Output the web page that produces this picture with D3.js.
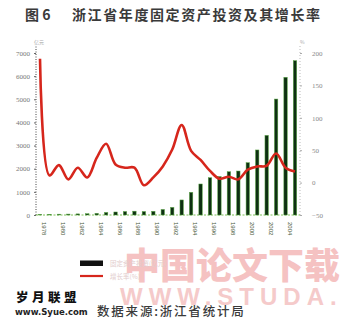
<!DOCTYPE html>
<html>
<head>
<meta charset="utf-8">
<script src="https://cdn.jsdelivr.net/npm/d3@7"></script>
<style>
  body { margin: 0; background: #fff; }
  svg { display: block; }
</style>
</head>
<body>
<div id="chart"></div>
<script>
// 浙江省年度固定资产投资(亿元)及其增长率(%)
const years = ['1978','1979','1980','1981','1982','1983','1984','1985','1986','1987',
               '1988','1989','1990','1991','1992','1993','1994','1995','1996','1997',
               '1998','1999','2000','2001','2002','2003','2004','2005'];
const investment = [27, 30, 36, 40, 48, 55, 72, 110, 130, 150,
                    165, 150, 160, 240, 330, 650, 980, 1340, 1610, 1660,
                    1870, 1900, 2260, 2810, 3440, 5010, 5950, 6670];
const growthRate = [191, 11, 27, 5, 23, 8, 38, 60, 28, 23,
                    23, -4, 8, 25, 51, 89, 49, 35, 18, 6,
                    9, 5, 20, 25, 26, 45, 23, 17];
const yearLabels = ['1978','1980','1982','1984','1986','1988','1990',
                    '1992','1994','1996','1998','2000','2002','2004'];
const leftTicks = [0, 1000, 2000, 3000, 4000, 5000, 6000, 7000];
const rightTicks = [-50, 0, 50, 100, 150, 200];
const legendNames = ['固定资产投资(亿元)', '增长率(%)'];

class ComboChart {
    constructor(_config) {
        this.config = {
            parentElement: _config.parentElement,
            width: _config.width || 347,
            height: _config.height || 320,
            plot: _config.plot || { left: 36, right: 300, top: 53, bottom: 215 },
        };
        this.initVis();
    }

    initVis() {
        this.svg = d3.select(this.config.parentElement)
            .append('svg')
            .attr('width', this.config.width)
            .attr('height', this.config.height)
            .style('font-family', '"Noto Sans CJK SC", "Liberation Serif", sans-serif');

        // site watermark, drawn first so it sits behind
        this.svg.append('text')
            .attr('x', 124).attr('y', 279)
            .attr('font-size', 36).attr('font-weight', 900)
            .attr('fill', '#f5c2c2')
            .text('中国论文下载');
        this.svg.append('text')
            .attr('x', 120).attr('y', 305)
            .attr('font-family', 'Liberation Sans, sans-serif')
            .attr('font-size', 24).attr('font-weight', 700)
            .attr('fill', '#f5caca')
            .attr('letter-spacing', 6)
            .text('WWW.STUDA.');

        this.svg.append('text')
            .attr('x', 25).attr('y', 20)
            .attr('font-size', 14).attr('font-weight', 700)
            .attr('fill', '#3a3a3a')
            .text('图 6');
        this.svg.append('text')
            .attr('x', 72).attr('y', 20)
            .attr('font-size', 14).attr('font-weight', 700)
            .attr('letter-spacing', 1.6)
            .attr('fill', '#3a3a3a')
            .text('浙江省年度固定资产投资及其增长率');

        this.x = d3.scalePoint().domain(years).range([40, 295]);
        this.yLeft = d3.scaleLinear().domain([0, 7000]).range([this.config.plot.bottom, this.config.plot.top]);
        this.yRight = d3.scaleLinear().domain([-50, 200]).range([this.config.plot.bottom, this.config.plot.top]);

        this.chart = this.svg.append('g');
        this.updateVis();
    }

    updateVis() {
        const p = this.config.plot;
        const barW = 3.4;

        // axes
        const leftAxis = d3.axisLeft(this.yLeft).tickValues(leftTicks)
            .tickFormat(d3.format('d')).tickSize(2).tickPadding(4);
        const leftG = this.chart.append('g')
            .attr('transform', `translate(${p.left},0)`)
            .call(leftAxis);
        leftG.select('.domain').attr('stroke', '#444').attr('stroke-dasharray', '1,1.5')
            .attr('d', `M0,${p.bottom}V${p.top - 8}`);
        leftG.selectAll('line').attr('stroke', '#666');
        leftG.selectAll('text').attr('font-size', 7).attr('fill', '#777')
            .attr('font-family', 'Liberation Serif, serif');

        const rightAxis = d3.axisRight(this.yRight).tickValues(rightTicks)
            .tickFormat(d3.format('d')).tickSize(2).tickPadding(10);
        const rightG = this.chart.append('g')
            .attr('transform', `translate(${p.right},0)`)
            .call(rightAxis);
        rightG.select('.domain').attr('stroke', '#bbb').attr('stroke-dasharray', '1,2')
            .attr('d', `M0,${p.bottom}V${p.top - 8}`);
        rightG.selectAll('line').attr('stroke', '#aaa');
        rightG.selectAll('text').attr('font-size', 7).attr('fill', '#888')
            .attr('font-family', 'Liberation Serif, serif');

        this.chart.append('text').attr('x', 34).attr('y', 44)
            .attr('font-size', 5).attr('fill', '#aaa').text('亿元');
        this.chart.append('text').attr('x', 300).attr('y', 44)
            .attr('font-size', 5).attr('fill', '#aaa').text('%');

        this.chart.append('line')
            .attr('x1', p.left).attr('x2', p.right)
            .attr('y1', p.bottom).attr('y2', p.bottom)
            .attr('stroke', '#7fbf5a').attr('stroke-width', 1.2)
            .attr('stroke-dasharray', '2,1.5');

        // year labels, every other year, turned on their side
        this.chart.append('g')
            .selectAll('text')
            .data(yearLabels)
            .join('text')
            .attr('transform', d => `translate(${this.x(d) + 2},${222}) rotate(90)`)
            .attr('font-size', 6)
            .attr('font-family', 'Liberation Sans, sans-serif')
            .attr('fill', '#4a5a3a')
            .text(d => d);

        // bars
        this.chart.append('g')
            .selectAll('rect')
            .data(years)
            .join('rect')
            .attr('x', d => this.x(d) - barW / 2)
            .attr('y', (d, i) => this.yLeft(investment[i]))
            .attr('width', barW)
            .attr('height', (d, i) => p.bottom - this.yLeft(investment[i]))
            .attr('fill', '#0e3012')
            .attr('stroke', '#5aa845')
            .attr('stroke-width', 0.5);

        // growth line
        const line = d3.line()
            .x((d, i) => this.x(years[i]))
            .y(d => this.yRight(d))
            .curve(d3.curveCatmullRom.alpha(0.5));
        this.chart.append('path')
            .datum(growthRate)
            .attr('d', line)
            .attr('fill', 'none')
            .attr('stroke', '#d6261c')
            .attr('stroke-width', 2.6)
            .attr('stroke-linejoin', 'round');

        // legend
        const lg = this.chart.append('g');
        lg.append('rect').attr('x', 80).attr('y', 260.5).attr('width', 23).attr('height', 5.5)
            .attr('fill', '#111');
        lg.append('line').attr('x1', 80).attr('x2', 103).attr('y1', 276).attr('y2', 276)
            .attr('stroke', '#d6261c').attr('stroke-width', 2.2);
        lg.selectAll('text.leg')
            .data(legendNames)
            .join('text')
            .attr('class', 'leg')
            .attr('x', 110)
            .attr('y', (d, i) => 266 + i * 13)
            .attr('font-size', 6.5)
            .attr('fill', '#e2cccc')
            .text(d => d);

        // site marks and source
        this.svg.append('text')
            .attr('x', 16).attr('y', 302)
            .attr('font-size', 12.5).attr('font-weight', 900)
            .attr('letter-spacing', 3.5)
            .attr('fill', '#111')
            .text('岁月联盟');
        this.svg.append('text')
            .attr('x', 15).attr('y', 315)
            .attr('font-family', 'DejaVu Sans, sans-serif')
            .attr('font-size', 8.5).attr('font-weight', 700)
            .attr('fill', '#222')
            .text('www.Syue.com');
        this.svg.append('text')
            .attr('x', 97).attr('y', 316)
            .attr('font-size', 12.5)
            .attr('font-weight', 500)
            .attr('letter-spacing', 1.8)
            .attr('fill', '#3a3a3a')
            .text('数据来源:浙江省统计局');
    }
}

const comboChart = new ComboChart({ parentElement: '#chart' });
</script>
</body>
</html>
